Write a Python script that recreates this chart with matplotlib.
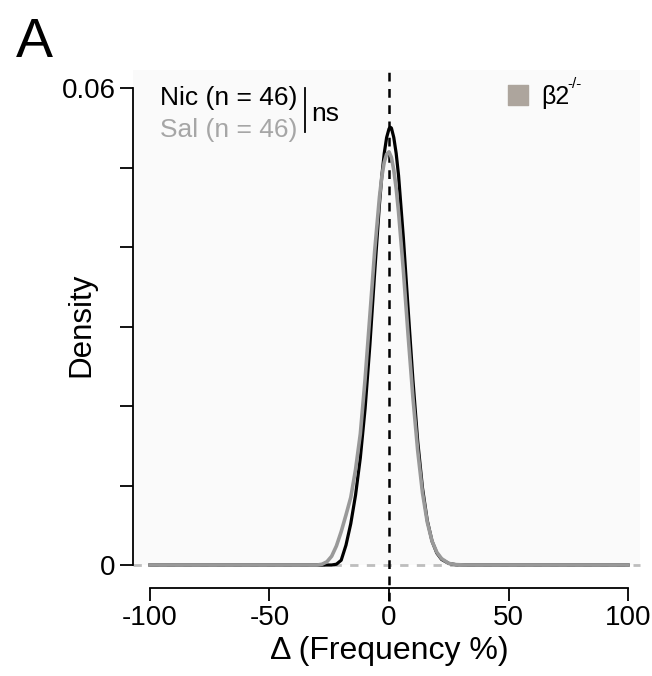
import matplotlib
matplotlib.use('Agg')
import matplotlib.pyplot as plt
import numpy as np

plt.rcParams['font.family'] = ['Liberation Sans', 'DejaVu Sans']

###############################
# data
###############################
nic_x = [-100, -30, -24, -22, -20, -18, -16, -14, -12, -10, -8, -6, -4,
         -3, -2, -1, 0, 0.5, 1, 2, 3, 4, 6, 8, 10, 12, 14, 16, 18, 20, 22,
         25, 28, 32, 100]
nic_y = [0, 0, 0, 0.0001, 0.0006, 0.0025, 0.0052, 0.0088, 0.0135, 0.0197,
         0.0277, 0.0368, 0.0454, 0.0490, 0.0518, 0.0538, 0.0549, 0.0551,
         0.0550, 0.0538, 0.0518, 0.0490, 0.0412, 0.0322, 0.0233, 0.0156,
         0.0097, 0.0056, 0.0030, 0.0015, 0.0007, 0.0002, 0.00004, 0, 0]

sal_x = [-100, -32, -30, -28, -26, -24, -22, -20, -18, -16, -14, -12, -10,
         -8, -6, -4, -3, -2, -1, 0, 1, 2, 3, 4, 6, 8, 10, 12, 14, 16, 18,
         20, 22, 25, 28, 32, 100]
sal_y = [0, 0, 0, 0.0001, 0.0004, 0.0011, 0.0024, 0.0042, 0.0063, 0.0085,
         0.0120, 0.0165, 0.0234, 0.0314, 0.0395, 0.0463, 0.0489, 0.0507,
         0.0517, 0.0520, 0.0513, 0.0497, 0.0474, 0.0444, 0.0371, 0.0289,
         0.0211, 0.0144, 0.0091, 0.0054, 0.0030, 0.0016, 0.0008, 0.0002,
         0.00005, 0, 0]

groups = ['Nic (n = 46)', 'Sal (n = 46)']
genotype = '\u03b22'
genotype_sup = '-/-'
xticks = [-100, -50, 0, 50, 100]
yticks = [0, 0.01, 0.02, 0.03, 0.04, 0.05, 0.06]

###############################
# plot
###############################
fig = plt.figure(figsize=(6.52, 6.76), dpi=100)
ax = fig.add_axes([133/652, 1-565/676, 507/652, 495/676])
ax.set_facecolor('#fafafa')

ax.set_xlim(-107.1, 105)
ax.set_ylim(0, 0.0623)

ax.axhline(0, color='#bdbdbd', lw=2, ls=(0, (3, 3)), zorder=1, clip_on=False)
ax.plot([0, 0], [-0.0045, 0.0623], color='black', lw=1.8, ls=(0, (3.5, 3)),
        zorder=2, clip_on=False)

ax.plot(nic_x, nic_y, color='black', lw=2.3, zorder=3, clip_on=False)
ax.plot(sal_x, sal_y, color='#999999', lw=2.6, zorder=4, clip_on=False)

for s in ['top', 'right']:
    ax.spines[s].set_visible(False)
ax.spines['bottom'].set_position(('outward', 16.5))
ax.spines['bottom'].set_bounds(-100, 100)
ax.spines['left'].set_bounds(0, 0.06)
ax.spines['left'].set_linewidth(1.3)
ax.spines['bottom'].set_linewidth(1.3)

ax.set_xticks(xticks)
ax.set_xticklabels([str(t) for t in xticks])
ax.set_yticks(yticks)
ax.set_yticklabels(['0', '', '', '', '', '', '0.06'])
ax.tick_params(axis='both', direction='out', length=9.5, width=1.3,
               labelsize=20, colors='black')
ax.tick_params(axis='x', pad=3)
ax.tick_params(axis='y', pad=3)

ax.set_xlabel('\u0394 (Frequency %)', fontsize=23, va='top')
ax.xaxis.set_label_coords(0.505, -0.143)
ax.set_ylabel('Density', fontsize=22.5, va='center')
ax.yaxis.set_label_coords(-0.102, 0.485)

# group labels and test result
ax.text(-96, 0.0588, groups[0], fontsize=19, color='black', va='center')
ax.text(-96, 0.0548, groups[1], fontsize=19, color='#a6a6a6', va='center')
ax.plot([-35.1, -35.1], [0.0545, 0.0600], color='black', lw=1.3)
ax.text(-32.5, 0.0568, 'ns', fontsize=19, color='black', va='center')

# genotype key
ax.scatter([54], [0.0592], marker='s', s=220, color='#ada59d', clip_on=False)
ax.text(63.5, 0.0589, genotype, fontsize=18, va='center')
ax.text(74.5, 0.0606, genotype_sup, fontsize=11, va='center')

fig.text(0.024, 0.975, 'A', fontsize=40, va='top')

fig.savefig('out.png', dpi=100)
